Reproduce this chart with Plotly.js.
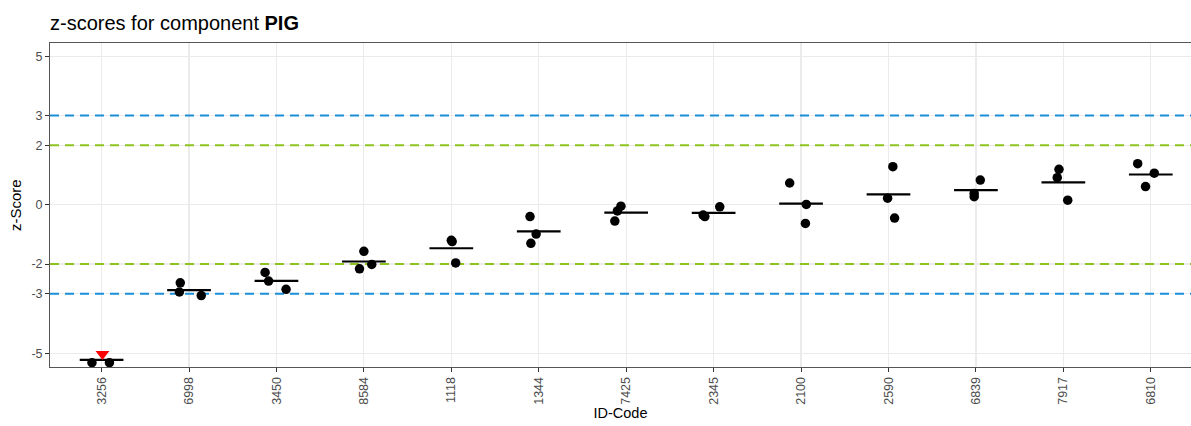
<!DOCTYPE html>
<html><head><meta charset="utf-8">
<script src="https://cdn.plot.ly/plotly-3.0.1.min.js"></script>
<style>html,body{margin:0;padding:0;background:#fff}#chart{width:1191px;height:426px}</style>
</head><body><div id="chart"></div>
<script>
const idCodes = ['3256','6998','3450','8584','1118','1344','7425','2345','2100','2590','6839','7917','6810'];
const zScores = [
  [-5.32, -5.32, -5.03],
  [-2.63, -2.94, -3.06],
  [-2.28, -2.57, -2.85],
  [-1.57, -2.01, -2.16],
  [-1.20, -1.24, -1.96],
  [-0.40, -0.99, -1.30],
  [-0.05, -0.21, -0.55],
  [-0.35, -0.40, -0.07],
  [0.73, 0.01, -0.63],
  [1.28, 0.22, -0.45],
  [0.83, 0.38, 0.27],
  [1.19, 0.91, 0.15],
  [1.38, 1.06, 0.61]
];
const jitter = [
  [-0.11, 0.09, 0.01],
  [-0.10, -0.11, 0.14],
  [-0.13, -0.09, 0.11],
  [0.00, 0.09, -0.05],
  [0.00, 0.01, 0.05],
  [-0.10, -0.03, -0.09],
  [-0.06, -0.10, -0.13],
  [-0.12, -0.10, 0.07],
  [-0.13, 0.06, 0.05],
  [0.05, -0.01, 0.07],
  [0.05, -0.02, -0.02],
  [-0.05, -0.07, 0.05],
  [-0.15, 0.04, -0.06]
];
// [group, point index] of points outside the displayed limit (drawn as red triangles)
const flaggedPoints = [[0, 2]];
const warningLimits = [2, -2];
const actionLimits = [3, -3];
const yTickVals = [-5, -3, -2, 0, 2, 3, 5];

const isFlagged = (g, i) => flaggedPoints.some(p => p[0] === g && p[1] === i);

const px = [], py = [], fx = [], fy = [];
zScores.forEach((vals, g) => {
  vals.forEach((v, i) => {
    const x = g + jitter[g][i];
    if (isFlagged(g, i)) { fx.push(x); fy.push(v); }
    else { px.push(x); py.push(v); }
  });
});

const mx = [], my = [];
zScores.forEach((vals, g) => {
  const m = vals.reduce((a, b) => a + b, 0) / vals.length;
  mx.push(g - 0.25, g + 0.25, null);
  my.push(m, m, null);
});

const limitLine = (v, color) => ({x: [-0.59, 12.46], y: [v, v], type: 'scatter', mode: 'lines', line: {color: color, width: 2, dash: '9px,6px'}, hoverinfo: 'skip', showlegend: false});

const traces = [];
warningLimits.forEach(v => traces.push(limitLine(v, '#8fc31f')));
actionLimits.forEach(v => traces.push(limitLine(v, '#1b8fd8')));
traces.push(
  {x: mx, y: my, type: 'scatter', mode: 'lines', line: {color: '#000', width: 2.2}, hoverinfo: 'skip', showlegend: false},
  {x: px, y: py, type: 'scatter', mode: 'markers', marker: {color: '#000', size: 9.5, line: {width: 0}}, hoverinfo: 'skip', showlegend: false},
  {x: fx, y: fy, type: 'scatter', mode: 'markers', marker: {color: '#ff0000', size: 12, symbol: 'triangle-down', line: {width: 0}}, hoverinfo: 'skip', showlegend: false, cliponaxis: false}
);

const layout = {
  width: 1191, height: 426,
  margin: {l: 50, r: 0, t: 43, b: 59, pad: 0},
  paper_bgcolor: '#fff', plot_bgcolor: '#fff',
  font: {family: 'Liberation Sans, Arial, sans-serif', color: '#000'},
  title: {text: 'z-scores for component <b>PIG</b>', x: 50 / 1191, xanchor: 'left', xref: 'container', y: 1 - 23 / 426, yanchor: 'middle', yref: 'container', font: {size: 20, color: '#000'}},
  xaxis: {
    range: [-0.59, 12.46], tickmode: 'array', tickvals: idCodes.map((_, i) => i), ticktext: idCodes,
    tickangle: -90, tickfont: {size: 12.5, color: '#4d4d4d'},
    ticks: 'outside', ticklen: 4, tickcolor: '#333', tickwidth: 1,
    showgrid: true, gridcolor: '#ebebeb', gridwidth: 1.2, zeroline: false,
    showline: true, linecolor: '#555', linewidth: 1, mirror: true,
    title: {text: 'ID-Code', font: {size: 14.5, color: '#000'}, standoff: 4}
  },
  yaxis: {
    range: [-5.465, 5.444], tickmode: 'array', tickvals: yTickVals, ticktext: yTickVals.map(String),
    tickfont: {size: 12.5, color: '#4d4d4d'},
    ticks: 'outside', ticklen: 4, tickcolor: '#333', tickwidth: 1,
    showgrid: true, gridcolor: '#ebebeb', gridwidth: 1.2, zeroline: false,
    showline: true, linecolor: '#555', linewidth: 1, mirror: false
  },
  annotations: [{
    text: 'z-Score', textangle: -90, xref: 'paper', yref: 'paper', x: -35 / 1141, y: 0.5,
    xanchor: 'center', yanchor: 'middle', showarrow: false, font: {size: 15, color: '#000'}
  }],
  showlegend: false
};

Plotly.newPlot('chart', traces, layout, {displayModeBar: false, staticPlot: true});
</script>
</body></html>
